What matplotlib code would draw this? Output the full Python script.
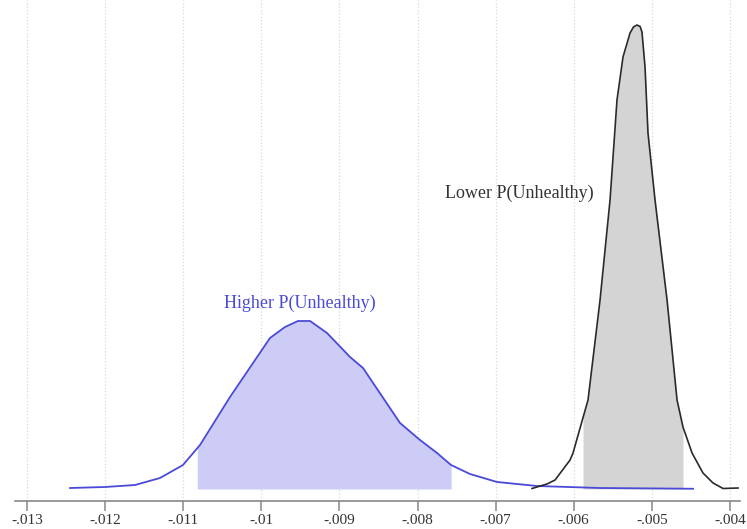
import numpy as np
import matplotlib
matplotlib.use("Agg")
import matplotlib.pyplot as plt
from matplotlib.ticker import FuncFormatter, MultipleLocator

# kernel density of the marginal effect, higher P(Unhealthy) group
high_x = [-0.012449, -0.012001, -0.011617, -0.011297, -0.011003, -0.010785,
          -0.010401, -0.009889, -0.009697, -0.009530, -0.009376, -0.009159,
          -0.008864, -0.008698, -0.008224, -0.007968, -0.007750, -0.007571,
          -0.007328, -0.006982, -0.006470, -0.005663, -0.004472]
high_y = [4, 8, 16, 44, 96, 176, 368, 604, 648, 672, 672, 624,
          528, 484, 264, 196, 144, 96, 60, 28, 12, 4, 1]
high_ci = (-0.01082, -0.00757)

# lower P(Unhealthy) group
low_x = [-0.006534, -0.006342, -0.006239, -0.006047, -0.006009, -0.005817,
         -0.005663, -0.005535, -0.005446, -0.005369, -0.005279, -0.005235,
         -0.005190, -0.005150, -0.005126, -0.005087, -0.005049, -0.004959,
         -0.004805, -0.004677, -0.004601, -0.004485, -0.004345, -0.004216,
         -0.004088, -0.003896]
low_y = [2, 20, 36, 116, 144, 356, 756, 1156, 1556, 1728, 1824, 1848,
         1856, 1850, 1828, 1688, 1424, 1156, 756, 356, 248, 144, 64, 24,
         2, 4]
low_ci = (-0.005881, -0.004601)

plt.rcParams['font.family'] = ['Liberation Serif', 'DejaVu Serif']

fig = plt.figure(figsize=(7.47, 5.29), dpi=100)
ax = fig.add_axes([15 / 747, 28 / 529, 725 / 747, 501 / 529])


def shade(xs, ys, ci, color):
    xs = np.asarray(xs)
    ys = np.asarray(ys)
    inside = (xs > ci[0]) & (xs < ci[1])
    fx = np.concatenate([[ci[0]], xs[inside], [ci[1]]])
    fy = np.concatenate([[np.interp(ci[0], xs, ys)], ys[inside],
                         [np.interp(ci[1], xs, ys)]])
    ax.fill_between(fx, 0, fy, color=color, linewidth=0, zorder=2)


shade(high_x, high_y, high_ci, '#ccccf7')
shade(low_x, low_y, low_ci, '#d4d4d4')
ax.plot(high_x, high_y, color='#4a4ad8', lw=1.3, zorder=3,
        solid_joinstyle='round')
ax.plot(low_x, low_y, color='#2a2a2a', lw=1.2, zorder=3,
        solid_joinstyle='round')

ax.text(-0.009504, 744, 'Higher P(Unhealthy)', color='#4a4ad8',
        fontsize=13, ha='center', va='center')
ax.text(-0.0067, 1184, 'Lower P(Unhealthy)', color='#333333',
        fontsize=13, ha='center', va='center')

ax.set_xlim(-0.013154, -0.003871)
ax.set_ylim(-48, 1956)
ax.xaxis.set_major_locator(MultipleLocator(0.001))
ax.xaxis.set_major_formatter(
    FuncFormatter(lambda v, p: f"{round(v, 4):g}".replace('0.', '.')))
ax.grid(axis='x', linestyle=':', color='#d8d8d8', lw=0.9, zorder=0)
ax.set_yticks([])
for side in ('left', 'right', 'top'):
    ax.spines[side].set_visible(False)
ax.spines['bottom'].set_color('#888888')
ax.spines['bottom'].set_linewidth(1.2)
ax.tick_params(axis='x', colors='#888888', length=7, width=1.1,
               labelcolor='#333333', labelsize=11, pad=2)

fig.savefig('out.png', dpi=100)
